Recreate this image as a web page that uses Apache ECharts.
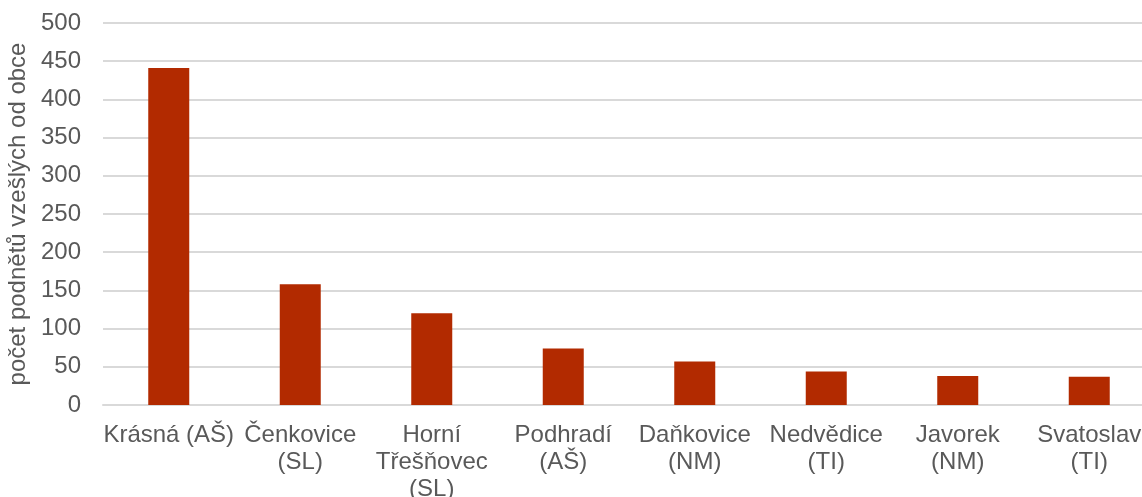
<!DOCTYPE html>
<html>
<head>
<meta charset="utf-8">
<script src="https://cdn.jsdelivr.net/npm/echarts@6/dist/echarts.min.js"></script>
<style>
  html, body { margin: 0; padding: 0; background: #ffffff; }
  #chart { width: 1142px; height: 497px; }
</style>
</head>
<body>
<div id="chart"></div>
<script>
// Obce a počet podnětů, které z nich vzešly
const categories = [
  'Krásná (AŠ)',
  'Čenkovice\n(SL)',
  'Horní\nTřešňovec\n(SL)',
  'Podhradí\n(AŠ)',
  'Daňkovice\n(NM)',
  'Nedvědice\n(TI)',
  'Javorek\n(NM)',
  'Svatoslav\n(TI)'
];
const podnety = [441, 158, 120, 74, 57, 44, 38, 37];
const yTitle = 'počet podnětů vzešlých od obce';

const textColor = '#595959';
const gridColor = '#D9D9D9';
const fontFamily = '"Liberation Sans", Arial, sans-serif';

const chart = echarts.init(document.getElementById('chart'), null, { renderer: 'canvas' });
chart.setOption({
  animation: false,
  backgroundColor: '#ffffff',
  textStyle: { fontFamily: fontFamily },
  grid: {
    left: 103, top: 23, bottom: 92, width: 1052,
    containLabel: false,
    outerBoundsMode: 'none'
  },
  xAxis: {
    type: 'category',
    data: categories,
    axisLine: { show: true, lineStyle: { color: gridColor, width: 2 } },
    axisTick: { show: false },
    axisLabel: {
      color: textColor,
      fontSize: 24,
      lineHeight: 27,
      margin: 17,
      interval: 0,
      fontFamily: fontFamily
    }
  },
  yAxis: {
    type: 'value',
    min: 0,
    max: 500,
    interval: 50,
    name: yTitle,
    nameLocation: 'middle',
    nameGap: 68,
    nameTextStyle: { color: textColor, fontSize: 24, fontFamily: fontFamily },
    axisLine: { show: false },
    axisTick: { show: false },
    axisLabel: { color: textColor, fontSize: 24, margin: 22, fontFamily: fontFamily },
    splitLine: { lineStyle: { color: gridColor, width: 2 } }
  },
  series: [{
    type: 'bar',
    data: podnety,
    barWidth: 41,
    itemStyle: { color: '#B22A00' }
  }]
});
</script>
</body>
</html>
